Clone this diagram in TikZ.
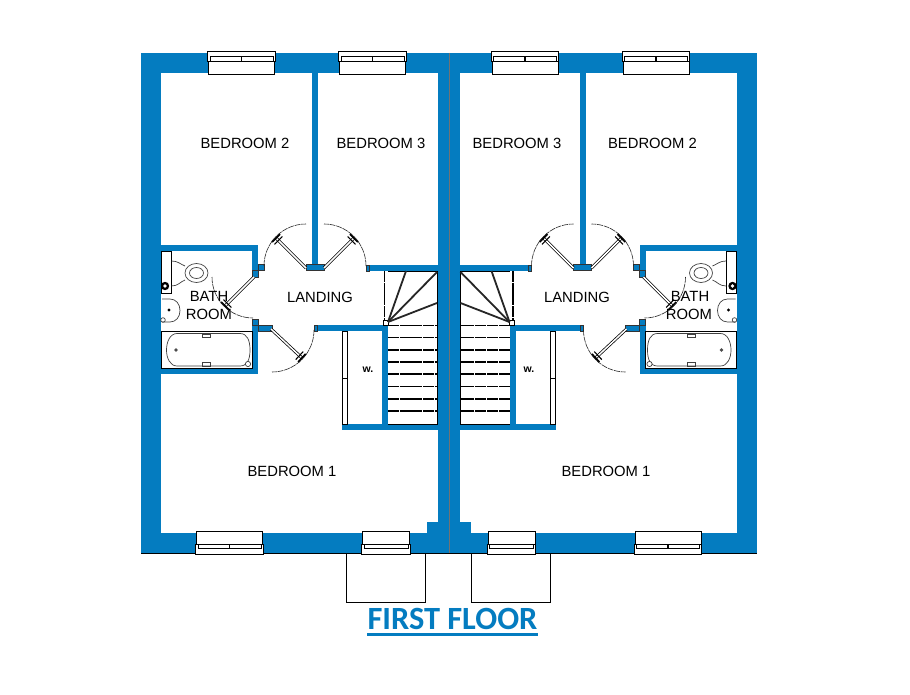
\documentclass[tikz,border=0pt]{standalone}
\usepackage{fontspec}
\usepackage{xcolor}
\setmainfont{Liberation Sans}
\newfontfamily\titlefont{Carlito}
\usetikzlibrary{calc}
\definecolor{wallblue}{RGB}{4,124,192}

\tikzset{
    wall/.style={fill=wallblue},
    stub/.style={fill=wallblue, draw=black!80, line width=0.3pt},
    swing/.style={draw=black!85, line width=0.6pt, dash pattern=on 6pt off 0.8pt},
    leaf/.style={draw=black, line width=0.75pt, double=white, double distance=1.5pt},
    stopbar/.style={draw=black, line width=1.9pt},
    fixture/.style={draw=black, line width=0.8pt},
    fitting/.style={draw=black!75, line width=0.7pt},
    winder/.style={draw=black!85, line width=1.8pt},
    tread/.style={draw=black, line width=1.1pt, dash pattern=on 11pt off 0.7pt},
    roomlabel/.style={font=\fontsize{14.8}{16}\selectfont, text=black, inner sep=0pt},
    titlelabel/.style={font=\titlefont\bfseries\fontsize{32.4}{34}\selectfont, text=wallblue, inner sep=0pt}
}

% one window: x of left edge, y of outer face, flip, width
\newcommand{\casement}[4]{
    \begin{scope}[shift={(#1,#2)}, yscale=#3]
        \fill[white] (0,2) rectangle (#4,23.5);
        \draw[fixture] (0,2) -- (0,23.5) -- (#4,23.5) -- (#4,2);
        \draw[fixture, fill=white] (-0.7,0) rectangle (#4+0.7,10.5);
        \draw[fixture, fill=white, line width=1pt] (1.5,5.7) rectangle (#4-1.5,10.3);
    \end{scope}
}

\begin{document}
\begin{tikzpicture}[x=1pt, y=-1pt]
    \useasboundingbox (0,0) rectangle (910,695);
    \fill[white] (0,0) rectangle (910,695);

    \foreach \mirror/\offset in {1/0, -1/897.5} {
    \begin{scope}[shift={(\offset,0)}, xscale=\mirror]
        % main walls
        \fill[wall] (141,53) rectangle (449,73);
        \fill[wall] (141,53) rectangle (161,553);
        \fill[wall] (141,533) rectangle (449,553);
        \fill[wall] (438,53) rectangle (449,553);
        \fill[wall] (427,522) rectangle (449,533);
        % bathroom walls
        \fill[wall] (161,245) rectangle (258,251);
        \fill[wall] (252,245) rectangle (258,273);
        \fill[wall] (252,319) rectangle (258,373.5);
        \fill[wall] (161,368) rectangle (258,373.5);
        % partitions
        \fill[wall] (312,73) rectangle (318,265);
        \fill[wall] (366,265) rectangle (438,271);
        \fill[wall] (314,325) rectangle (388,331);
        \fill[wall] (382,325) rectangle (388,430);
        \fill[wall] (342,424) rectangle (438,430);
        \draw[stub] (306,264.5) rectangle (324,270.5);
        \draw[stub] (258,264) rectangle (264,270);
        \draw[stub] (252,270) rectangle (258,277);
        \draw[stub] (252,319) rectangle (258,325);
        \draw[stub] (258,325) rectangle (272,331);
        \draw[stub] (366,265) rectangle (369,271);
        \draw[stub] (314,325) rectangle (317,331);

        % doors
        \foreach \hx/\hy/\ex/\ey in {306/268/276/238, 324/268/354/238, 254/277/225/306, 271/329/302/358} {
            \coordinate (hinge) at (\hx,\hy);
            \coordinate (tip) at (\ex,\ey);
            \draw[leaf] (hinge) -- (tip);
            \draw[stopbar] ($(tip)!5.5pt!90:(hinge)$) -- ($(tip)!5.5pt!-90:(hinge)$);
            \draw[stopbar, line width=1.1pt] ($(tip)!3.5pt!(hinge)!5.5pt!90:(hinge)$) -- ($(tip)!3.5pt!(hinge)!5.5pt!-90:(hinge)$);
        }
        \draw[swing] (264,266) arc[start angle=180, end angle=270, radius=42];
        \draw[swing] (366,266) arc[start angle=0, end angle=-90, radius=42];
        \draw[swing] (212,277) arc[start angle=180, end angle=90, radius=41];
        \draw[swing] (314,330) arc[start angle=0, end angle=90, radius=42];

        % stairs
        \draw[fixture] (388,271) -- (437.5,271) -- (437.5,424) -- (388,424);
        \draw[tread] (384.5,271) -- (384.5,320);
        \draw[fixture, fill=white] (383,320) rectangle (388,325);
        \draw[winder] (388,322) -- (406,271);
        \draw[winder] (388,322) -- (437,272);
        \draw[winder] (388,322) -- (437,303);
        \foreach \ty in {325.7,337.7,350,362,374,386.5,399,411} {
            \draw[tread] (388,\ty) -- (437.5,\ty);
        }

        % wardrobe
        \draw[fixture, fill=white] (342.5,331) rectangle (347,424);
        \draw[fixture] (342.5,378) -- (347,378);

        % wc
        \draw[fixture] (161,251) rectangle (171.5,293);
        \fill[black] (165,286) circle[radius=4.2];
        \fill[white] (165,286) circle[radius=1.8];
        \draw[fitting] (171.5,261) .. controls (178,261) and (180,264) .. (185,266);
        \draw[fitting] (171.5,286) .. controls (178,286) and (180,282) .. (185,280);
        \draw[fitting] (196.5,273) ellipse[x radius=11.5, y radius=9.5];
        \draw[fitting] (196.5,273) ellipse[x radius=7, y radius=5.5];

        % basin
        \draw[fitting] (162,299) -- (170,299) .. controls (176,299) and (180,304) .. (180,310.5) .. controls (180,317) and (176,322) .. (170,322) -- (162,322);
        \fill[black] (169,310) circle[radius=1.7];
        \draw[fitting] (163,320) circle[radius=2.3];

        % bath
        \draw[fixture, line width=1pt] (161.5,331.5) rectangle (252,368);
        \draw[fitting] (177,333.5) -- (240,333.5) .. controls (247,333.5) and (250,340) .. (250,350) .. controls (250,360) and (247,366) .. (240,366) -- (177,366) .. controls (170,366) and (166.5,358) .. (166.5,350) .. controls (166.5,342) and (170,333.5) .. (177,333.5);
        \fill[black!70] (176,350) circle[radius=1.8];
        \draw[fitting] (202,334) rectangle (210,337.5);
        \draw[fitting] (202,362.5) rectangle (210,366);
        \draw[fitting, fill=white] (248,364) circle[radius=2.6];

        % windows
        \casement{208.5}{51}{1}{66}
        \casement{339.5}{51}{1}{66}
        \casement{196.5}{554.5}{-1}{66}
        \casement{362.5}{554.5}{-1}{47}
        \foreach \dx in {241.5,372.5} {
            \draw[fixture, line width=1.2pt] (\dx,56.7) -- (\dx,61.3);
        }
        \draw[fixture, line width=1.2pt] (229.5,544) -- (229.5,549);

        % porch
        \draw[fixture] (346.7,553) -- (346.7,602.3) -- (425.7,602.3) -- (425.7,553);
    \end{scope}
    }

    % outline over the blocks
    \draw[black!55, line width=0.5pt] (448.8,53) -- (448.8,553);
    \draw[black, line width=0.6pt] (141,553) -- (196,553);
    \draw[black, line width=0.6pt] (263,553) -- (362,553);
    \draw[black, line width=0.6pt] (410,553) -- (488,553);
    \draw[black, line width=0.6pt] (536,553) -- (635,553);
    \draw[black, line width=0.6pt] (702,553) -- (757,553);

    \node[roomlabel] (bedtwoL) at (245,143.5) {BEDROOM 2};
    \node[roomlabel] (bedthreeL) at (381,143.5) {BEDROOM 3};
    \node[roomlabel] (bedoneL) at (292,471.5) {BEDROOM 1};
    \node[roomlabel] (landingL) at (320,297.5) {LANDING};
    \node[roomlabel] (bathL) at (209,296.5) {BATH};
    \node[roomlabel] (roomL) at (209,314.5) {ROOM};
    \node[roomlabel, font=\bfseries\fontsize{10.5}{12}\selectfont] (wardL) at (368,369.5) {w.};

    \node[roomlabel] (bedthreeR) at (517,143.5) {BEDROOM 3};
    \node[roomlabel] (bedtwoR) at (652.5,143.5) {BEDROOM 2};
    \node[roomlabel] (bedoneR) at (606,471.5) {BEDROOM 1};
    \node[roomlabel] (landingR) at (577,297.5) {LANDING};
    \node[roomlabel] (bathR) at (690,296.5) {BATH};
    \node[roomlabel] (roomR) at (689,314.5) {ROOM};
    \node[roomlabel, font=\bfseries\fontsize{10.5}{12}\selectfont] (wardR) at (529,369.5) {w.};

    \node[titlelabel] (title) at (452.5,619) {FIRST FLOOR};
    \fill[wallblue] (367,633) rectangle (538,636);
\end{tikzpicture}
\end{document}
